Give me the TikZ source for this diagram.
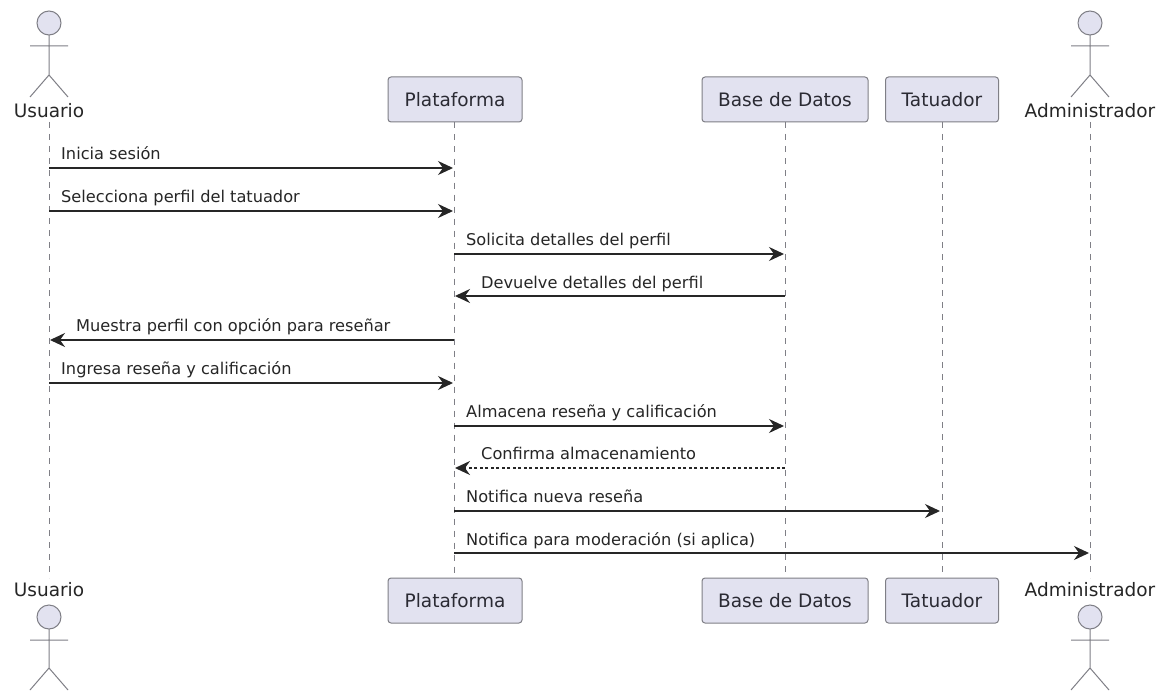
\documentclass[tikz,border=0pt]{standalone}
\usepackage{fontspec}
\setmainfont{DejaVu Sans}
\usetikzlibrary{arrows.meta}
\definecolor{pfill}{HTML}{E2E2F0}
\definecolor{pline}{HTML}{7F7F86}
\definecolor{ink}{HTML}{262626}
\definecolor{ptext}{HTML}{2A2A33}
\tikzset{
  x=1pt,y=-1pt,
  pbox/.style={draw=pline,fill=pfill,line width=1pt,rounded corners=3pt,minimum height=45pt,inner sep=0pt,font=\fontsize{18.5}{20}\selectfont,text=ptext,anchor=center},
  alabel/.style={font=\fontsize{18.5}{20}\selectfont,text=ink,inner sep=0pt,anchor=center},
  life/.style={draw=pline,line width=1pt,dash pattern=on 6pt off 6pt},
  figure/.style={draw=pline,line width=1pt},
  msg/.style={draw=ink,line width=1.5pt,-{Stealth[length=15pt,width=14pt,inset=5pt]},shorten >=1pt},
  msgd/.style={msg,dash pattern=on 3pt off 2.5pt},
  mtext/.style={font=\fontsize{16.2}{18}\selectfont,text=ink,inner sep=0pt,anchor=base west},
}
\begin{document}
\begin{tikzpicture}
\useasboundingbox (0,0) rectangle (1159,698);
\fill[white] (0,0) rectangle (1159,698);
% lifelines anchors
\coordinate (ut) at (49,122); \coordinate (ub) at (49,578);
\node[pbox,minimum width=134pt] (pt) at (455,99.5) {Plataforma};
\node[pbox,minimum width=134pt] (pb) at (455,600.5) {Plataforma};
\node[pbox,minimum width=166pt] (bt) at (785,99.5) {Base de Datos};
\node[pbox,minimum width=166pt] (bb) at (785,600.5) {Base de Datos};
\node[pbox,minimum width=113pt] (tt) at (942,99.5) {Tatuador};
\node[pbox,minimum width=113pt] (tb) at (942,600.5) {Tatuador};
\coordinate (at) at (1090,122); \coordinate (ab) at (1090,578);
\draw[life] (ut) -- (ub);
\draw[life] (pt.south -| 454,0) -- (pb.north -| 454,0);
\draw[life] (bt) ++(0,22.5) -- (bb.north);
\draw[life] (tt) ++(0,22.5) -- (tb.north);
\draw[life] (at) -- (ab);
% actors
\foreach \n/\x/\t in {u/49/Usuario,a/1090/Administrador}{
  \node[alabel] (\n lt) at (\x,111) {\t};
  \node[alabel] (\n lb) at (\x,590) {\t};
  \draw[figure,fill=pfill] (\x,23) circle (12);
  \draw[figure] (\x,35) -- (\x,75) (\x-19,46) -- (\x+19,46) (\x-19,97) -- (\x,75) -- (\x+19,97);
  \draw[figure,fill=pfill] (\x,617) circle (12);
  \draw[figure] (\x,629) -- (\x,668) (\x-19,640) -- (\x+19,640) (\x-19,690) -- (\x,668) -- (\x+19,690);
}
% message rows
\foreach \i/\y in {1/168,2/211,3/254,4/296,5/340,6/383,7/426,8/468,9/511,10/553}{\coordinate (m\i) at (0,\y);}
\coordinate (U) at (49,0); \coordinate (P) at (454,0); \coordinate (B) at (785,0); \coordinate (T) at (941,0); \coordinate (A) at (1090,0);
\draw[msg] (U |- m1) -- (P |- m1);
\draw[msg] (U |- m2) -- (P |- m2);
\draw[msg] (P |- m3) -- (B |- m3);
\draw[msg] (B |- m4) -- (P |- m4);
\draw[msg] (P |- m5) -- (U |- m5);
\draw[msg] (U |- m6) -- (P |- m6);
\draw[msg] (P |- m7) -- (B |- m7);
\draw[msgd] (B |- m8) -- (P |- m8);
\draw[msg] (P |- m9) -- (T |- m9);
\draw[msg] (P |- m10) -- (A |- m10);
\node[mtext] (t1) at (61,159) {Inicia sesión};
\node[mtext] (t2) at (61,202) {Selecciona perfil del tatuador};
\node[mtext] (t3) at (466,245) {Solicita detalles del perfil};
\node[mtext] (t4) at (481,288) {Devuelve detalles del perfil};
\node[mtext] (t5) at (76,331) {Muestra perfil con opción para reseñar};
\node[mtext] (t6) at (61,374) {Ingresa reseña y calificación};
\node[mtext] (t7) at (466,417) {Almacena reseña y calificación};
\node[mtext] (t8) at (481,459) {Confirma almacenamiento};
\node[mtext] (t9) at (466,502) {Notifica nueva reseña};
\node[mtext] (t10) at (466,545) {Notifica para moderación (si aplica)};
\end{tikzpicture}
\end{document}
